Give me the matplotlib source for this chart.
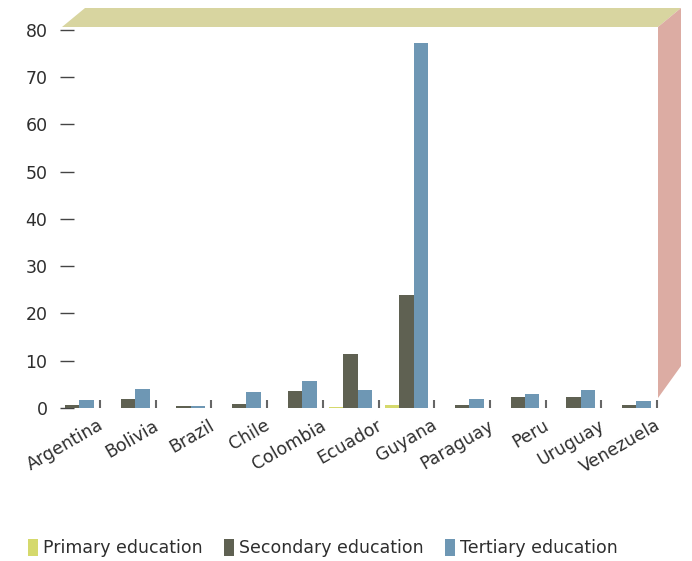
import numpy as np
import matplotlib
matplotlib.use("Agg")
import matplotlib.pyplot as plt
from matplotlib.patches import Polygon, Patch

# values
countries = ["Argentina", "Bolivia", "Brazil", "Chile", "Colombia", "Ecuador",
             "Guyana", "Paraguay", "Peru", "Uruguay", "Venezuela"]
primary = [0.0, 0.0, 0.0, 0.0, 0.0, 0.15, 0.6, 0.0, 0.0, 0.0, 0.0]
secondary = [0.6, 1.9, 0.5, 0.85, 3.5, 11.4, 23.9, 0.6, 2.3, 2.3, 0.7]
tertiary = [1.6, 4.0, 0.5, 3.3, 5.7, 3.9, 77.3, 2.0, 3.0, 3.9, 1.4]
series_names = ["Primary education", "Secondary education", "Tertiary education"]
yticks = [0, 10, 20, 30, 40, 50, 60, 70, 80]

col_prim = "#d5d96c"
col_sec = "#5f6152"
col_ter = "#6e97b4"
txt = "#2e2e2e"

W, H = 692, 561
fig = plt.figure(figsize=(W / 100, H / 100), dpi=100)
plt.rcParams['font.family'] = ['DejaVu Sans']

# 3d-ish box: ceiling strip and right wall (in pixel coords)
def px(x, y):
    return (x / W, 1 - y / H)

ceiling = Polygon([px(62, 27), px(658, 27), px(681, 8), px(85, 8)],
                  closed=True, transform=fig.transFigure,
                  facecolor="#d8d5a0", edgecolor="none", zorder=0)
wall = Polygon([px(658, 27), px(681, 8), px(681, 366), px(658, 398)],
               closed=True, transform=fig.transFigure,
               facecolor="#dcaca3", edgecolor="none", zorder=0)
fig.patches.extend([ceiling, wall])

ax = fig.add_axes([60 / W, 1 - 408 / H, (657 - 60) / W, (408 - 27) / H])
ax.set_facecolor("none")

x = np.arange(len(countries))
bw = 0.26
ax.bar(x - bw, primary, bw, color=col_prim, clip_on=False, zorder=3)
ax.bar(x, secondary, bw, color=col_sec, clip_on=False, zorder=3)
ax.bar(x + bw, tertiary, bw, color=col_ter, clip_on=False, zorder=3)

ax.set_xlim((60 - 72.15) / 55.7, 10.5)
ax.set_ylim(0, 80.6)

for s in ax.spines.values():
    s.set_visible(False)

ax.set_yticks(yticks)
ax.set_yticklabels([str(v) for v in yticks])
ax.tick_params(axis="y", direction="in", length=10, width=1.0, color="#444444",
               pad=9, labelsize=12.5, labelcolor=txt)

# group separator ticks
ax.set_xticks(x + 0.5, minor=True)
ax.tick_params(axis="x", which="minor", direction="in", length=6, width=1.5,
               color="#666666")
ax.set_xticks(x + 0.45)
ax.set_xticklabels(countries, rotation=30, ha="right", va="top",
                   rotation_mode="anchor")
ax.tick_params(axis="x", which="major", length=0, pad=6, labelsize=12.5,
               labelcolor=txt)

handles = [Patch(facecolor=c, edgecolor="none") for c in (col_prim, col_sec, col_ter)]
fig.legend(handles, series_names, loc="center left",
           bbox_to_anchor=(12 / W, 1 - 548 / H), ncol=3, frameon=False,
           handlelength=0.6, handleheight=1.1, handletextpad=0.3,
           columnspacing=1.2, fontsize=12.5, labelcolor=txt)

fig.savefig("out.png", dpi=100)
